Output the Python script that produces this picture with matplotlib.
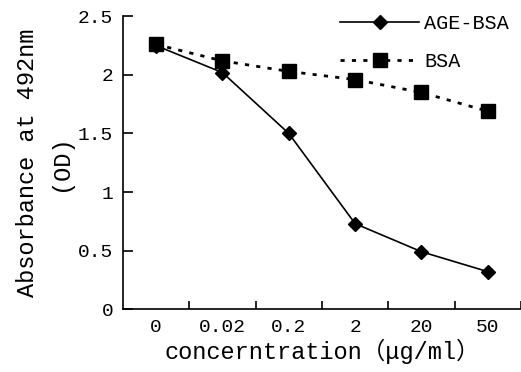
import numpy as np
import matplotlib
matplotlib.use("Agg")
import matplotlib.pyplot as plt

# concentration categories (ug/ml) and absorbance readings
conc_labels = ["0", "0.02", "0.2", "2", "20", "50"]
age_bsa = [2.25, 2.02, 1.50, 0.73, 0.49, 0.32]
bsa = [2.26, 2.12, 2.03, 1.96, 1.85, 1.69]

plt.rcParams['font.family'] = ['Liberation Mono', 'Noto Sans CJK SC', 'DejaVu Sans Mono']

fig = plt.figure(figsize=(5.21, 3.72), dpi=100)
ax = fig.add_axes([0.236, 0.169, 0.764, 0.787])

x = np.arange(len(conc_labels))
ax.plot(x, age_bsa, color='black', lw=1.2, marker='D', markersize=7,
        label='AGE-BSA')
ax.plot(x, bsa, color='black', lw=2, linestyle=(0, (1.5, 2.6)), marker='s',
        markersize=9.5, label='BSA')

ax.set_xlim(-0.5, 5.5)
ax.set_ylim(0, 2.5)
ax.set_yticks([0, 0.5, 1, 1.5, 2, 2.5])
ax.set_yticklabels(["0", "0.5", "1", "1.5", "2", "2.5"])

# ticks sit between categories, labels under the categories
ax.set_xticks(np.arange(0.5, 6, 1))
ax.set_xticklabels([])
ax.set_xticks(x, minor=True)
ax.set_xticklabels(conc_labels, minor=True)
ax.tick_params(axis='x', which='major', direction='in', length=6, width=1.2)
ax.tick_params(axis='x', which='minor', length=0, pad=7, labelsize=14)
ax.tick_params(axis='y', direction='in', length=7, width=1.2, pad=7,
               labelsize=14)

for side in ['top', 'right']:
    ax.spines[side].set_visible(False)
for side in ['left', 'bottom']:
    ax.spines[side].set_linewidth(1.2)

ax.set_xlabel("concerntration（μg/ml）", fontsize=17, labelpad=2)
ax.set_ylabel("Absorbance at 492nm\n(OD)", fontsize=17, linespacing=1.55)
ax.yaxis.set_label_coords(-0.128, 0.5)

ax.legend(loc='upper right', bbox_to_anchor=(1.015, 1.07), frameon=False,
          fontsize=14.5, handlelength=3.9, handletextpad=0.25, labelspacing=0.95)

fig.savefig("out.png", dpi=100)
